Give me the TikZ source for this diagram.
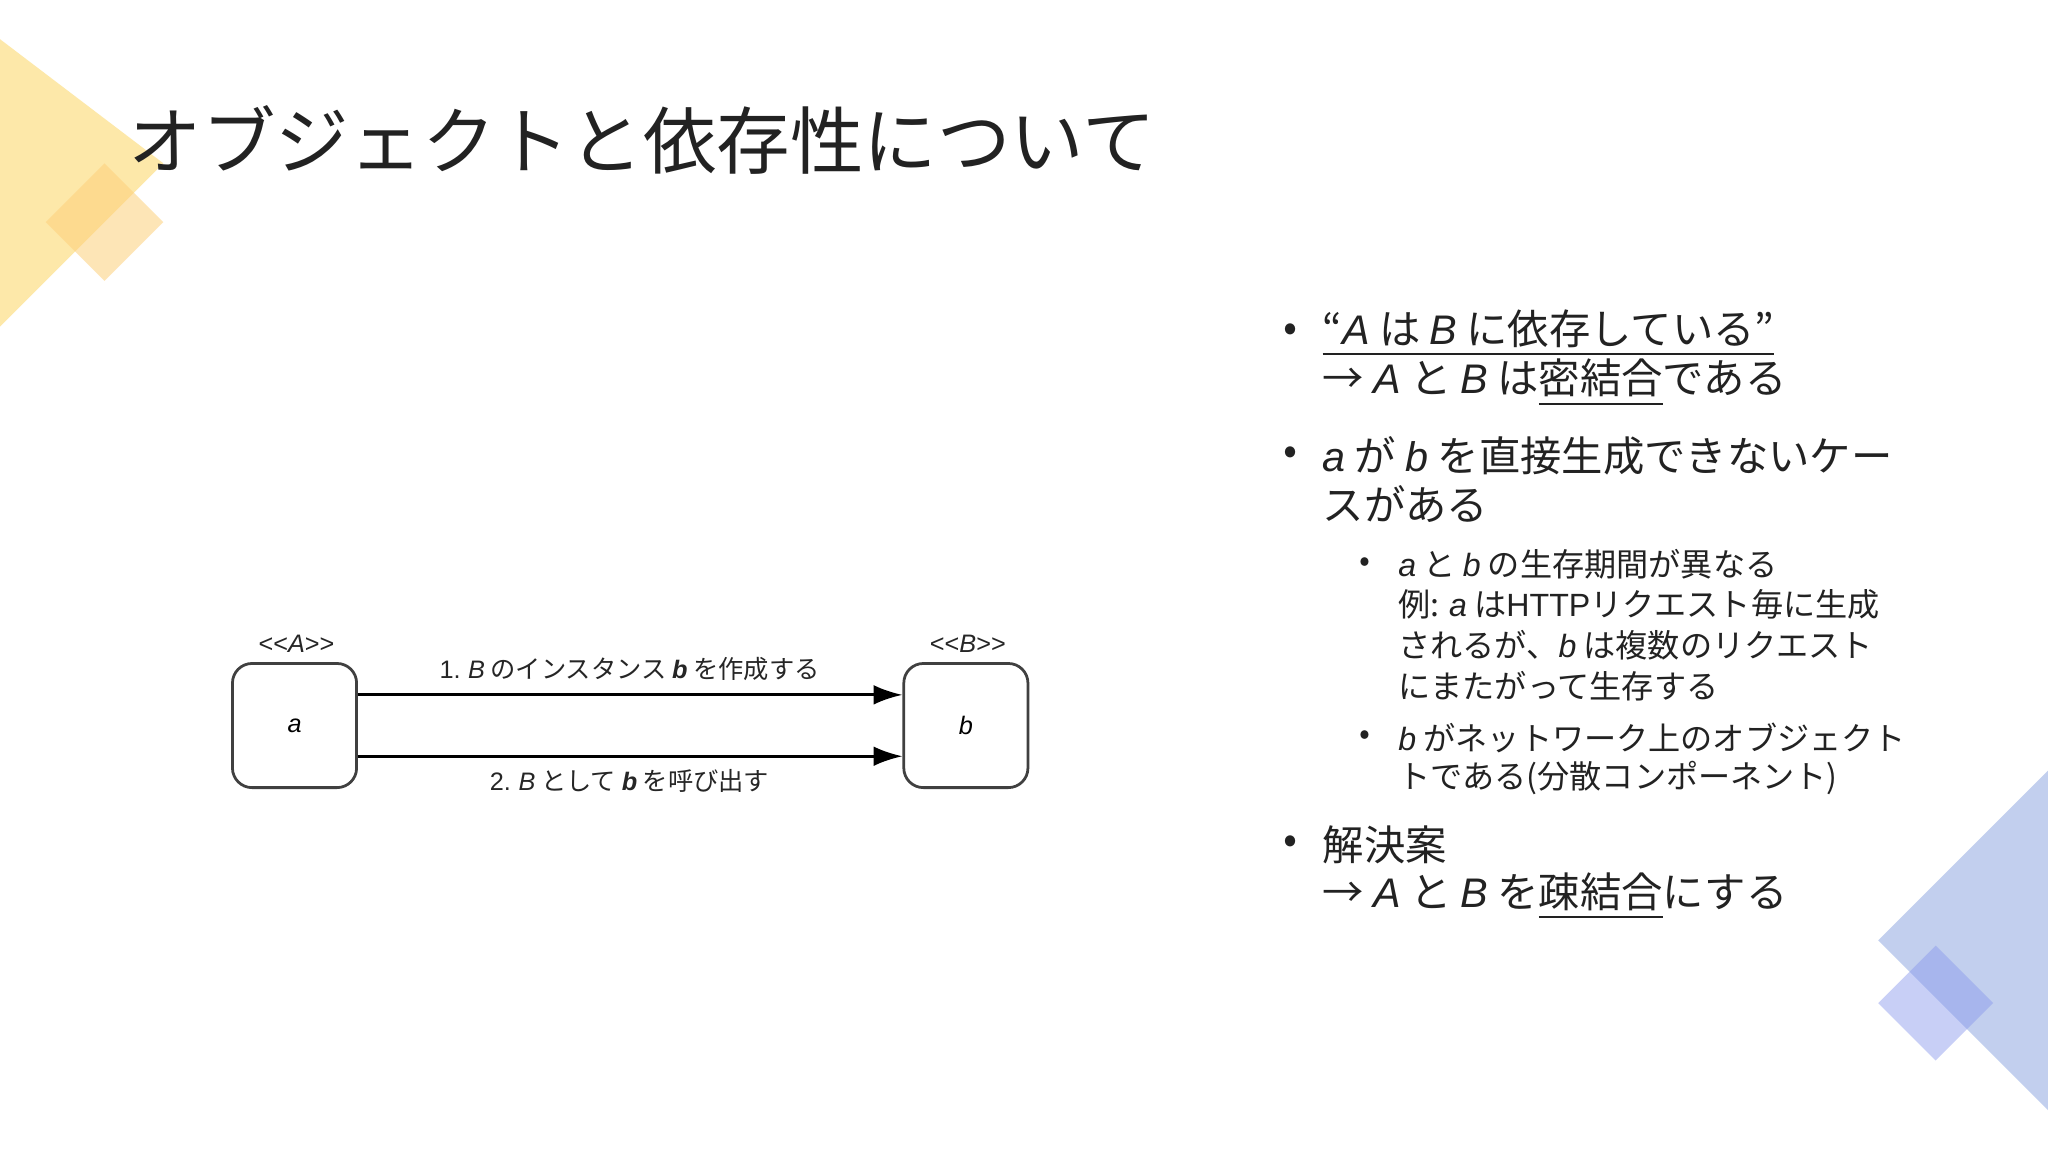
\documentclass[tikz,border=0pt]{standalone}
\usepackage{fontspec}
\setmainfont{Noto Sans CJK JP}
\newfontfamily\lat{Liberation Sans}
\newcommand{\iv}[1]{{\lat\itshape #1}}
\usetikzlibrary{arrows.meta}
\definecolor{ylw}{HTML}{FDE49A}
\definecolor{blu}{HTML}{A9BBE8}
\definecolor{txt}{HTML}{222222}
\tikzset{
 bul/.style={anchor=west,font=\fontsize{9}{11}\selectfont,text=txt,inner sep=0},
 sub/.style={anchor=west,font=\fontsize{7}{9}\selectfont,text=txt,inner sep=0},
 obj/.style={draw=black!75,rounded corners=1.5mm,minimum width=0.95cm,minimum height=0.95cm,line width=0.6pt,font=\fontsize{5.5}{7}\selectfont},
 lab/.style={font=\fontsize{5.5}{7}\selectfont,text=black!85,inner sep=0},
 arr/.style={-{Latex[length=2.2mm,width=1.5mm]},line width=0.6pt}
}
\begin{document}
\begin{tikzpicture}[x=0.01cm,y=-0.01cm]
\useasboundingbox (0,0) rectangle (1568,882);
\fill[white] (0,0) rectangle (1568,882);
% decorations
\fill[ylw,opacity=0.85] (0,30) -- (125,125) -- (0,250) -- cycle;
\fill[ylw!80!orange,opacity=0.55] (35,170) -- (80,125) -- (125,170) -- (80,215) -- cycle;
\fill[blu,opacity=0.7] (1568,590) -- (1438,720) -- (1568,850) -- cycle;
\fill[blu!80!blue,opacity=0.45] (1438,768) -- (1482,724) -- (1526,768) -- (1482,812) -- cycle;
% title
\node[anchor=west,inner sep=0,font=\fontsize{16}{18}\selectfont,text=txt] (title) at (98,107) {オブジェクトと依存性について};
% bullets
\foreach \y in {255,349,647} \node[bul] at (982,\y) {•};
\node[bul] (l1) at (1012,255) {\underline{“\iv{A} は \iv{B} に依存している”}};
\node[bul] (l2) at (1012,293) {→ \iv{A} と \iv{B} は\underline{密結合}である};
\node[bul] (l3) at (1012,349) {\iv{a} が \iv{b} を直接生成できないケー};
\node[bul] (l4) at (1012,386) {スがある};
\foreach \y in {432,565} \node[sub] at (1040,\y) {•};
\node[sub] (s1) at (1070,432) {\iv{a} と \iv{b} の生存期間が異なる};
\node[sub] (s2) at (1070,463) {例: \iv{a} は{\lat HTTP}リクエスト毎に生成};
\node[sub] (s3) at (1070,494) {されるが、\iv{b} は複数のリクエスト};
\node[sub] (s4) at (1070,525) {にまたがって生存する};
\node[sub] (s5) at (1070,565) {\iv{b} がネットワーク上のオブジェクト};
\node[sub] (s6) at (1070,596) {トである(分散コンポーネント)};
\node[bul] (l5) at (1012,647) {解決案};
\node[bul] (l6) at (1012,686) {→ \iv{A} と \iv{B} を\underline{疎結合}にする};
% diagram
\node[obj] (a) at (225.5,555.5) {\iv{a}};
\node[obj] (b) at (739.5,555.5) {\iv{b}};
\node[lab] (ta) at (227,493) {{\lat <<}\iv{A}{\lat >>}};
\node[lab] (tb) at (741,493) {{\lat <<}\iv{B}{\lat >>}};
\draw[arr] (a.east|-0,532) coordinate (p1) -- (b.west|-0,532) coordinate (q1);
\draw[arr] (a.east|-0,579) coordinate (p2) -- (b.west|-0,579) coordinate (q2);
\node[lab] (m1) at (482,512) {{\lat 1.} \iv{B} のインスタンス \iv{\textbf{b}} を作成する};
\node[lab] (m2) at (482,598) {{\lat 2.} \iv{B} として \iv{\textbf{b}} を呼び出す};
\end{tikzpicture}
\end{document}
